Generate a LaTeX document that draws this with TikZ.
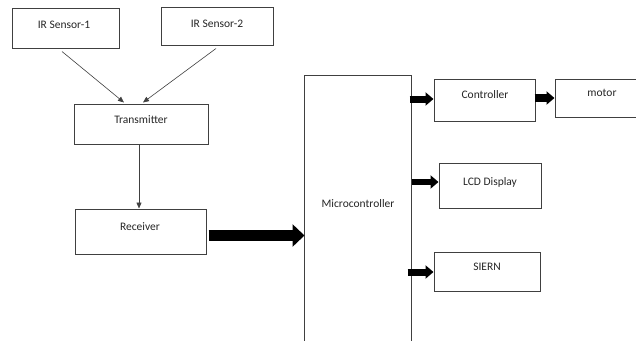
\documentclass[tikz,border=0pt]{standalone}
\usepackage{fontspec}
\setmainfont{Carlito}
\usetikzlibrary{arrows.meta,calc}
\definecolor{ln}{HTML}{404040}
\definecolor{tx}{HTML}{262626}
\tikzset{
  box/.style={draw=ln, line width=1pt, rectangle, inner sep=0pt},
  lbl/.style={text=tx, font=\fontsize{11.5}{13}\selectfont, inner sep=0pt},
  thin/.style={draw=ln, line width=0.6pt, -{Triangle[length=6pt,width=5pt]}},
  bigarrow/.style={line width=11pt, -{Triangle[length=12pt,width=22pt]}},
  midarrow/.style={line width=#1, -{Triangle[length=8pt,width=13pt]}},
}
\begin{document}
\begin{tikzpicture}[x=1pt,y=-1pt]
\useasboundingbox (0,0) rectangle (636,340);
\clip (0,0) rectangle (636,340);
\fill[white] (0,0) rectangle (636,340);
% boxes
\node[box, minimum width=107pt, minimum height=40pt] (s1) at (65.5,28) {};
\node[lbl] (s1t) at (64,25) {IR Sensor-1};
\node[box, minimum width=112pt, minimum height=38pt] (s2) at (217,26) {};
\node[lbl] (s2t) at (217,24) {IR Sensor-2};
\node[box, minimum width=134pt, minimum height=40pt] (tr) at (141,124) {};
\node[lbl] (trt) at (141,120) {Transmitter};
\node[box, minimum width=131pt, minimum height=45pt] (rx) at (140.5,231.5) {};
\node[lbl] (rxt) at (140,227) {Receiver};
\node[box, minimum width=107pt, minimum height=275pt] (mc) at (357.5,212.5) {};
\node[lbl] (mct) at (358,204) {Microcontroller};
\node[box, minimum width=101pt, minimum height=42pt] (ct) at (484.5,100) {};
\node[lbl] (ctt) at (485,95) {Controller};
\node[box, minimum width=95pt, minimum height=38pt] (mo) at (602.5,98) {};
\node[lbl] (mot) at (602,93) {motor};
\node[box, minimum width=102pt, minimum height=45pt] (lcd) at (490,185.5) {};
\node[lbl] (lcdt) at (490,182) {LCD Display};
\node[box, minimum width=106pt, minimum height=39pt] (sn) at (487,271.5) {};
\node[lbl] (snt) at (487,267) {SIERN};
% thin connectors
\draw[thin] ($(s1.south)+(-3.5,3)$) -- ($(tr.north)+(-17,-1)$);
\draw[thin] ($(s2.south)+(-1,3)$) -- ($(tr.north)+(2,-1)$);
\draw[thin] ($(tr.south)+(-2,0)$) -- ($(rx.north)+(-1.5,0)$);
% thick connectors
\draw[bigarrow] ($(rx.east)+(2,4)$) -- ($(mc.west |- rx.east)+(1,4)$);
\draw[midarrow=7pt] ($(mc.east |- ct.west)+(-2,-1)$) -- ($(ct.west)+(0,-1)$);
\draw[midarrow=8pt] ($(ct.east)+(-1,-2)$) -- ($(mo.west)+(0,0)$);
\draw[midarrow=6pt] ($(mc.east |- lcd.west)+(0,-3.5)$) -- ($(lcd.west)+(0,-3.5)$);
\draw[midarrow=7pt] ($(mc.east |- sn.west)+(-4,0.5)$) -- ($(sn.west)+(0,0.5)$);
\end{tikzpicture}
\end{document}
